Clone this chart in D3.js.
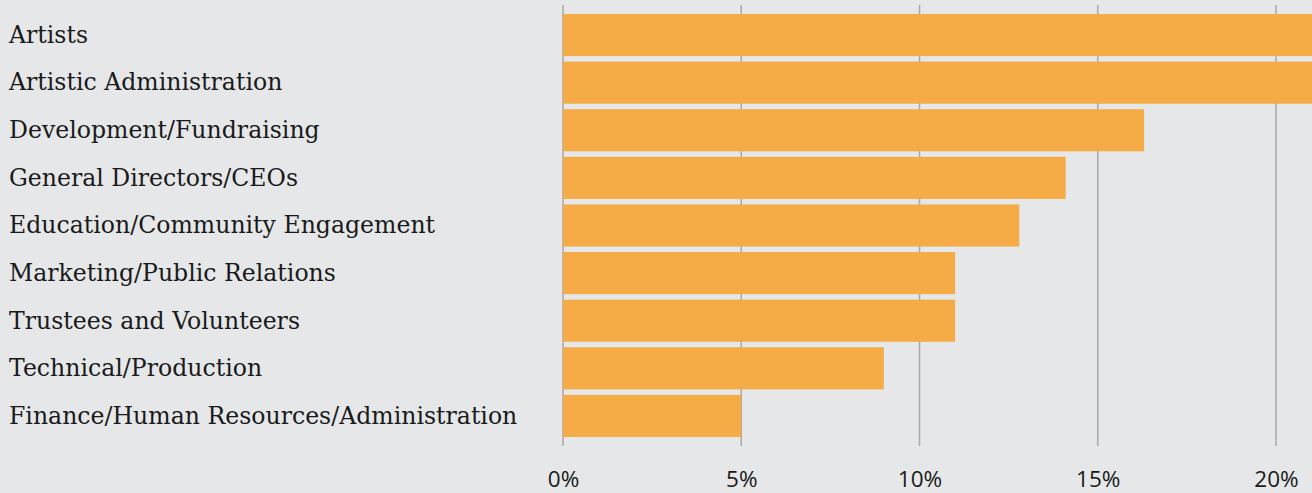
<!DOCTYPE html>
<html>
<head>
<meta charset="utf-8">
<script src="https://cdn.jsdelivr.net/npm/d3@7"></script>
<style>
  body { margin: 0; background: #e6e7e8; overflow: hidden; }
  svg { display: block; }
</style>
</head>
<body>
<svg id="drawing_region"></svg>
<script>
// data (percent of respondents)
const categories = [
    "Artists",
    "Artistic Administration",
    "Development/Fundraising",
    "General Directors/CEOs",
    "Education/Community Engagement",
    "Marketing/Public Relations",
    "Trustees and Volunteers",
    "Technical/Production",
    "Finance/Human Resources/Administration"
];
const values = [22.5, 22, 16.3, 14.1, 12.8, 11, 11, 9, 5];
const tickValues = [0, 5, 10, 15, 20];

const config = {
    width: 1312,
    height: 493,
    margin: {top: 14, right: 0, bottom: 56, left: 563}
};

const svg = d3.select('#drawing_region')
    .attr('width', config.width)
    .attr('height', config.height);

svg.append('rect')
    .attr('width', config.width)
    .attr('height', config.height)
    .attr('fill', '#e6e7e8');

const chart = svg.append('g')
    .attr('transform', `translate(${config.margin.left}, ${config.margin.top})`);

const inner_height = config.height - config.margin.top - config.margin.bottom;

// 5% is about 178px wide
const xscale = d3.scaleLinear()
    .domain([0, 20])
    .range([0, 713]);

const yscale = d3.scaleBand()
    .domain(categories)
    .range([0, 423])
    .paddingInner(0.115)
    .paddingOuter(0);

// vertical grid lines, behind the bars
chart.append('g')
    .selectAll('line')
    .data(tickValues)
    .join('line')
    .attr('x1', d => xscale(d))
    .attr('x2', d => xscale(d))
    .attr('y1', -9)
    .attr('y2', 432)
    .attr('stroke', '#a8a9ab')
    .attr('stroke-width', 1.5);

chart.selectAll('rect.bar')
    .data(values)
    .join('rect')
    .attr('class', 'bar')
    .attr('x', 0)
    .attr('y', (d, i) => yscale(categories[i]))
    .attr('width', d => xscale(d))
    .attr('height', yscale.bandwidth())
    .attr('fill', '#f5ac47');

// category labels at the far left
svg.append('g')
    .selectAll('text')
    .data(categories)
    .join('text')
    .attr('x', 9)
    .attr('y', d => config.margin.top + yscale(d) + yscale.bandwidth() / 2)
    .attr('dy', '0.33em')
    .attr('font-family', "'DejaVu Serif', serif")
    .attr('font-size', '23.6px')
    .attr('font-weight', 300)
    .attr('fill', '#1a1a1a')
    .text(d => d);

// x axis labels
const xaxis = d3.axisBottom(xscale)
    .tickValues(tickValues)
    .tickSize(0)
    .tickFormat(d => d + '%');

const xaxis_group = chart.append('g')
    .attr('transform', `translate(0, ${inner_height + 50})`)
    .call(xaxis);

xaxis_group.select('.domain').remove();
xaxis_group.selectAll('text')
    .attr('font-family', "'Open Sans', sans-serif")
    .attr('font-size', '22.5px')
    .attr('fill', '#1a1a1a')
    .attr('dy', 0)
    .attr('y', 0);
</script>
</body>
</html>
